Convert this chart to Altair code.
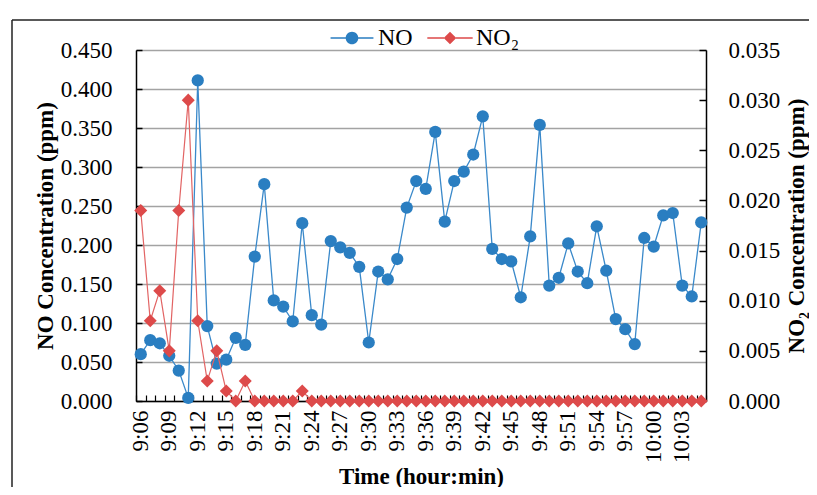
import altair as alt
import pandas as pd

# ---------------- data ----------------
times = ["9:06", "9:07", "9:08", "9:09", "9:10", "9:11", "9:12", "9:13", "9:14", "9:15",
         "9:16", "9:17", "9:18", "9:19", "9:20", "9:21", "9:22", "9:23", "9:24", "9:25",
         "9:26", "9:27", "9:28", "9:29", "9:30", "9:31", "9:32", "9:33", "9:34", "9:35",
         "9:36", "9:37", "9:38", "9:39", "9:40", "9:41", "9:42", "9:43", "9:44", "9:45",
         "9:46", "9:47", "9:48", "9:49", "9:50", "9:51", "9:52", "9:53", "9:54", "9:55",
         "9:56", "9:57", "9:58", "9:59", "10:00", "10:01", "10:02", "10:03", "10:04", "10:05"]

no_ppm = [0.060, 0.078, 0.074, 0.058, 0.039, 0.004, 0.411, 0.096, 0.048, 0.053,
          0.081, 0.072, 0.185, 0.278, 0.129, 0.121, 0.102, 0.228, 0.110, 0.098,
          0.205, 0.197, 0.190, 0.172, 0.075, 0.166, 0.156, 0.182, 0.248, 0.282,
          0.272, 0.345, 0.230, 0.282, 0.294, 0.316, 0.365, 0.195, 0.182, 0.179,
          0.133, 0.211, 0.354, 0.148, 0.158, 0.202, 0.166, 0.151, 0.224, 0.167,
          0.105, 0.092, 0.073, 0.209, 0.198, 0.238, 0.241, 0.148, 0.134, 0.229]

no2_ppm = [0.019, 0.008, 0.011, 0.005, 0.019, 0.030, 0.008, 0.002, 0.005, 0.001,
           0.000, 0.002, 0.000, 0.000, 0.000, 0.000, 0.000, 0.001, 0.000, 0.000,
           0.000, 0.000, 0.000, 0.000, 0.000, 0.000, 0.000, 0.000, 0.000, 0.000,
           0.000, 0.000, 0.000, 0.000, 0.000, 0.000, 0.000, 0.000, 0.000, 0.000,
           0.000, 0.000, 0.000, 0.000, 0.000, 0.000, 0.000, 0.000, 0.000, 0.000,
           0.000, 0.000, 0.000, 0.000, 0.000, 0.000, 0.000, 0.000, 0.000, 0.000]

series = ["NO", "NO\u2082"]
left_ticks = [0.0, 0.05, 0.10, 0.15, 0.20, 0.25, 0.30, 0.35, 0.40, 0.45]
right_ticks = [0.0, 0.005, 0.010, 0.015, 0.020, 0.025, 0.030, 0.035]

df = pd.DataFrame({"time": times, "NO": no_ppm, "NO2": no2_ppm})
leg_df = pd.DataFrame({"series": series})
frame_df = pd.DataFrame({"k": [0]})

# ---------------- style ----------------
FONT = "Liberation Serif"
BLUE = "#2A7EC1"
BLUE_LINE = "#3A89CA"
RED = "#DD4A4A"
RED_LINE = "#E26464"
W, H = 570, 351

xscale = alt.Scale(type="band", paddingInner=0, paddingOuter=0)
label_expr = "toNumber(split(datum.value, ':')[1]) % 3 == 0 ? datum.value : ''"

x_main = alt.X("time:N", sort=times, scale=xscale, axis=alt.Axis(
    orient="bottom", labelExpr=label_expr, labelAngle=270, labelAlign="right",
    labelBaseline="middle", labelFont=FONT, labelFontSize=23, labelColor="black",
    labelPadding=9, labelOverlap=False, labelLimit=200, ticks=False,
    domainColor="black", domainWidth=1.5, grid=False,
    title="Time (hour:min)", titleFont=FONT, titleFontSize=23, titleFontWeight="bold",
    titleColor="black", titleY=82, titleBaseline="alphabetic"))

x_ticks = alt.X("time:N", sort=times, scale=xscale, axis=alt.Axis(
    orient="top", offset=-H, labels=False, domain=False, grid=False, ticks=True,
    tickBand="extent", tickSize=6, tickColor="black", tickWidth=1.2, title=None))

x_none = alt.X("time:N", sort=times, scale=xscale, axis=None)

yl_scale = alt.Scale(domain=[0, 0.45], nice=False, zero=True)
yr_scale = alt.Scale(domain=[0, 0.035], nice=False, zero=True)

y_left = alt.Y("NO:Q", scale=yl_scale, axis=alt.Axis(
    orient="left", values=left_ticks, format=".3f", grid=True, gridColor="#A3A3A3",
    gridWidth=1.5, ticks=False, domainColor="black", domainWidth=1.5,
    labelFont=FONT, labelFontSize=23, labelColor="black", labelPadding=24,
    title="NO Concentration (ppm)", titleFont=FONT, titleFontSize=23,
    titleFontWeight="bold", titleColor="black", titleAngle=270, titleX=-91,
    titleBaseline="middle"))

y_left_ticks = alt.Y("NO:Q", scale=yl_scale, axis=alt.Axis(
    orient="right", offset=-W, values=left_ticks, labels=False, domain=False,
    grid=False, ticks=True, tickSize=6, tickColor="black", tickWidth=1.5, title=None))

y_right = alt.Y("NO2:Q", scale=yr_scale, axis=alt.Axis(
    orient="right", values=right_ticks, format=".3f", grid=False, ticks=False,
    domainColor="black", domainWidth=1.5, labelFont=FONT, labelFontSize=23,
    labelColor="black", labelPadding=22,
    title="NO\u2082 Concentration (ppm)", titleFont=FONT, titleFontSize=23,
    titleFontWeight="bold", titleColor="black", titleAngle=270, titleX=90,
    titleBaseline="middle"))

y_right_ticks = alt.Y("NO2:Q", scale=yr_scale, axis=alt.Axis(
    orient="left", offset=-W, values=right_ticks, labels=False, domain=False,
    grid=False, ticks=True, tickSize=7, tickColor="black", tickWidth=1.5, title=None))

base = alt.Chart(df)

no_line = base.mark_line(color=BLUE_LINE, strokeWidth=1.3).encode(x=x_main, y=y_left)
no_pts = base.mark_point(filled=True, shape="circle", size=150, color=BLUE,
                         opacity=1).encode(x=x_ticks, y=y_left_ticks)

# legend (symbol = short line + marker), drawn by Vega's legend
no_path = ("M-3.4,-0.12H-0.95V0.12H-3.4Z M0.95,-0.12H3.4V0.12H0.95Z "
           "M-1,0A1,1 0 1,1 1,0A1,1 0 1,1 -1,0Z")
no2_path = ("M-3.6,-0.12H-0.95V0.12H-3.6Z M0.95,-0.12H3.6V0.12H0.95Z "
            "M0,-1L1,0L0,1L-1,0Z")

leg = alt.Legend(orient="none", legendX=204, legendY=-24, direction="horizontal",
                 title=None, symbolSize=159, symbolOpacity=1, symbolStrokeWidth=0,
                 labelFont=FONT, labelFontSize=24, labelColor="black",
                 labelOffset=14, columnPadding=14, padding=0)

legend_layer = alt.Chart(leg_df).mark_point(filled=True, opacity=0).encode(
    x=alt.value(0), y=alt.value(0),
    color=alt.Color("series:N", sort=series,
                    scale=alt.Scale(domain=series, range=[BLUE, RED]), legend=leg),
    shape=alt.Shape("series:N", sort=series,
                    scale=alt.Scale(domain=series, range=[no_path, no2_path]), legend=leg))

frame_left = alt.Chart(frame_df).mark_rule(color="#222222", strokeWidth=1.5).encode(
    x=alt.value(-124), y=alt.value(-30), y2=alt.value(440))
frame_top = alt.Chart(frame_df).mark_rule(color="#222222", strokeWidth=1.5).encode(
    x=alt.value(-124), x2=alt.value(700), y=alt.value(-30))

no2_line = base.mark_line(color=RED_LINE, strokeWidth=1.2).encode(x=x_none, y=y_right)
no2_pts = base.mark_point(filled=True, shape="diamond", size=170, color=RED,
                          opacity=1).encode(x=x_none, y=y_right_ticks)

left = alt.layer(frame_left, frame_top, no_line, no_pts, legend_layer)
right = alt.layer(no2_line, no2_pts)

chart = alt.layer(left, right).resolve_scale(y="independent").properties(
    width=W, height=H,
    autosize=alt.AutoSizeParams(type="none"),
    padding={"left": 128, "top": 42, "right": 103, "bottom": 86},
).configure_view(stroke=None).configure(background="white")

chart.save("out.html", embed_options={"renderer": "svg", "actions": False})
